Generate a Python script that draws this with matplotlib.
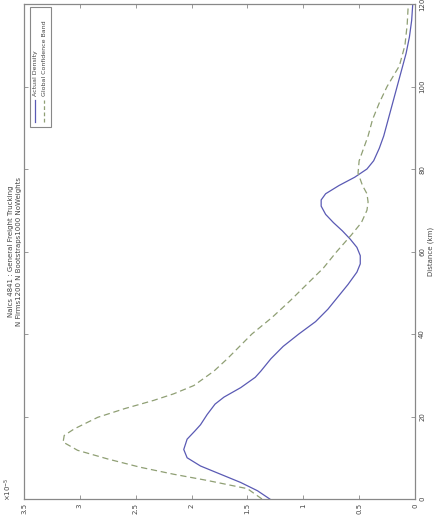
import matplotlib
matplotlib.use("Agg")
import matplotlib.pyplot as plt
from matplotlib.patches import Rectangle

# distance (km) and densities (x 1e-5)
actual_km = [0, 2, 4, 6, 8, 10, 12, 14.5, 16.5, 18, 20.5, 23, 24.7, 27, 29.5, 31, 34, 37, 40,
             43, 46, 49, 52, 55, 57, 59, 61, 63, 65, 67, 69, 71, 72.5, 74, 76, 78, 80, 82,
             85, 88, 92, 96, 100, 104, 108, 112, 116, 120]
actual_density = [1.30, 1.41, 1.56, 1.74, 1.92, 2.04, 2.07, 2.04, 1.97, 1.92, 1.86, 1.79, 1.71,
                  1.56, 1.43, 1.38, 1.29, 1.18, 1.04, 0.89, 0.78, 0.69, 0.60, 0.52, 0.49, 0.49,
                  0.52, 0.58, 0.65, 0.73, 0.80, 0.84, 0.84, 0.80, 0.68, 0.54, 0.43, 0.37, 0.32,
                  0.28, 0.24, 0.20, 0.16, 0.12, 0.08, 0.05, 0.03, 0.02]

band_km = [0, 2.5, 4.5, 6, 7.7, 9.7, 11.8, 13.8, 15.4, 17, 19.8, 21.9, 23.9, 25.5, 27.5, 31,
           34, 37, 40, 44, 48, 52, 56, 60, 64, 67, 70, 72, 74, 76, 79, 82, 85, 88, 92, 96,
           100, 105, 110, 115, 120]
band_density = [1.37, 1.50, 1.86, 2.16, 2.46, 2.75, 3.02, 3.15, 3.14, 3.05, 2.84, 2.60, 2.34,
                2.16, 1.98, 1.80, 1.68, 1.57, 1.46, 1.28, 1.12, 0.97, 0.82, 0.70, 0.57, 0.48,
                0.43, 0.42, 0.43, 0.47, 0.51, 0.50, 0.46, 0.42, 0.38, 0.32, 0.25, 0.14, 0.09,
                0.07, 0.06]

density_ticks = [0, 0.5, 1, 1.5, 2, 2.5, 3, 3.5]
distance_ticks = [0, 20, 40, 60, 80, 100, 120]

title_lines = ["Naics 4841 : General Freight Trucking",
               "N Firms1200 N Bootstraps1000 NoWeights"]
legend_labels = ["Actual Density", "Global Confidence Band"]

BLUE = "#5a5ab4"
GREEN = "#8f9f74"
GREY = "#888888"
TXT = "#444444"

# the chart is drawn turned a quarter turn: density runs right-to-left, distance upward
fig = plt.figure(figsize=(4.34, 5.17), dpi=100)
ax = fig.add_axes([24 / 434, 1 - 499 / 517, 391 / 434, 495 / 517])

ax.plot(actual_density, actual_km, color=BLUE, lw=0.9, solid_joinstyle="round")
ax.plot(band_density, band_km, color=GREEN, lw=0.9, ls=(0, (5, 3)))

ax.set_xlim(3.5, 0)
ax.set_ylim(0, 120)
ax.set_xticks(density_ticks)
ax.set_xticklabels([f"{t:g}" for t in density_ticks], rotation=90)
ax.set_yticks(distance_ticks)
ax.set_yticklabels([str(t) for t in distance_ticks], rotation=90, va="center")
ax.yaxis.tick_right()
ax.tick_params(direction="in", length=3, width=0.6, colors=GREY, labelcolor=TXT,
               labelsize=5, top=True, bottom=True, left=True, right=True, pad=3)
for s in ax.spines.values():
    s.set_color(GREY)
    s.set_linewidth(0.9)

ax.text(1.041, 0.5, "Distance (km)", transform=ax.transAxes, rotation=90,
        ha="center", va="center", fontsize=5, color=TXT)
ax.text(-0.04, 0.02, r"$\times 10^{-5}$", transform=ax.transAxes, rotation=90,
        ha="center", va="center", fontsize=5, color=TXT)
ax.text(-0.033, 0.5, title_lines[0], transform=ax.transAxes, rotation=90,
        ha="center", va="center", fontsize=5, color=TXT)
ax.text(-0.012, 0.5, title_lines[1], transform=ax.transAxes, rotation=90,
        ha="center", va="center", fontsize=5, color=TXT)

# legend drawn by hand so it can be turned with the rest
ax.add_patch(Rectangle((0.0153, 0.752), 0.054, 0.242, transform=ax.transAxes,
                       fill=True, facecolor="white", edgecolor=GREY, lw=0.8, zorder=5))
for xa, col, ls, lab in [(0.029, BLUE, "-", legend_labels[0]),
                         (0.052, GREEN, (0, (3, 2)), legend_labels[1])]:
    ax.plot([xa, xa], [0.762, 0.806], transform=ax.transAxes, color=col, ls=ls,
            lw=0.9, zorder=6)
    ax.text(xa, 0.814, lab, transform=ax.transAxes, rotation=90, ha="center",
            va="bottom", fontsize=4.5, color=TXT, zorder=6)

fig.savefig("out.png", dpi=100, facecolor="white")
